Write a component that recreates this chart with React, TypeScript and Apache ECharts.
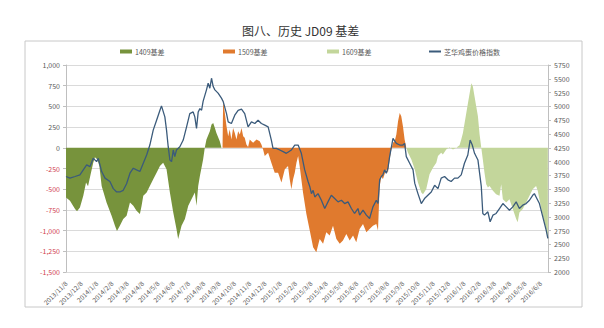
import React, { useEffect, useRef } from "react";
import * as echarts from "echarts";

// x positions are months since 2013/11/8
const xLabels: string[] = [
  "2013/11/8", "2013/12/8",
  "2014/1/8", "2014/2/8", "2014/3/8", "2014/4/8", "2014/5/8", "2014/6/8",
  "2014/7/8", "2014/8/8", "2014/9/8", "2014/10/8", "2014/11/8", "2014/12/8",
  "2015/1/8", "2015/2/8", "2015/3/8", "2015/4/8", "2015/5/8", "2015/6/8",
  "2015/7/8", "2015/8/8", "2015/9/8", "2015/10/8", "2015/11/8", "2015/12/8",
  "2016/1/8", "2016/2/8", "2016/3/8", "2016/4/8", "2016/5/8", "2016/6/8",
];

const basis1409: [number, number][] = [
  [0.0, -600], [0.26, -640], [0.59, -740], [0.72, -765], [0.91, -720], [1.13, -580],
  [1.31, -420], [1.44, -465], [1.61, -320], [1.78, -180], [1.89, -115], [2.05, -140],
  [2.18, -220], [2.33, -460], [2.65, -660], [2.98, -820], [3.2, -940], [3.33, -1005],
  [3.52, -940], [3.74, -860], [3.96, -820], [4.18, -660], [4.4, -700], [4.61, -760],
  [4.83, -800], [4.94, -700], [5.05, -580], [5.27, -540], [5.48, -460], [5.7, -380],
  [5.92, -300], [6.14, -220], [6.35, -180], [6.57, -260], [6.79, -540], [7.01, -780],
  [7.22, -980], [7.33, -1100], [7.55, -940], [7.77, -860], [7.99, -700], [8.2, -620],
  [8.42, -540], [8.53, -700], [8.64, -460], [8.75, -340], [8.96, -140], [9.07, 0],
  [9.18, 100], [9.4, 200], [9.51, 280], [9.62, 300], [9.73, 240], [9.83, 180],
  [10.05, 80], [10.16, 0],
];

const basis1509: [number, number][] = [
  [10.23, 0], [10.27, 580], [10.38, 420], [10.49, 260], [10.6, 140], [10.7, 220],
  [10.81, 100], [10.92, 240], [11.03, 180], [11.14, 100], [11.25, 200], [11.36, 160],
  [11.47, 240], [11.58, 140], [11.68, 120], [11.79, 40], [11.9, 10], [12.01, 100],
  [12.12, 80], [12.23, 60], [12.45, 100], [12.66, 80], [12.77, 40], [12.88, -20],
  [12.99, -100], [13.21, -60], [13.42, -180], [13.64, -300], [13.86, -300], [14.08, -420],
  [14.3, -260], [14.51, -220], [14.62, -380], [14.73, -500], [14.84, -380], [14.95, -300],
  [15.06, -180], [15.17, -100], [15.27, -220], [15.49, -540], [15.71, -800], [15.93, -1000],
  [16.15, -1200], [16.36, -1260], [16.47, -1180], [16.58, -1100], [16.8, -1160], [17.01, -1020],
  [17.23, -1060], [17.45, -940], [17.67, -1100], [17.89, -1160], [18.1, -1120], [18.32, -1040],
  [18.54, -1120], [18.76, -1060], [18.97, -1140], [19.19, -980], [19.41, -920], [19.63, -1020],
  [19.84, -980], [20.06, -940], [20.28, -920], [20.39, -1000], [20.5, -460], [20.61, -340],
  [20.71, -380], [20.93, -260], [21.04, -300], [21.15, -140], [21.26, -20], [21.37, 60],
  [21.48, 80], [21.59, 160], [21.7, 320], [21.81, 420], [21.91, 380], [22.02, 260],
  [22.13, 100], [22.24, 0],
];

const basis1609: [number, number][] = [
  [22.24, 0], [22.35, -60], [22.57, -140], [22.79, -260], [23.0, -420], [23.22, -540],
  [23.33, -560], [23.54, -500], [23.76, -320], [23.98, -240], [24.2, -180], [24.31, -100],
  [24.52, -60], [24.63, -80], [24.85, -20], [25.07, 10], [25.29, -20], [25.5, 0],
  [25.72, 30], [25.83, 100], [25.94, 180], [26.16, 420], [26.27, 540], [26.38, 660],
  [26.49, 780], [26.59, 740], [26.7, 620], [26.81, 500], [26.92, 380], [27.03, 160],
  [27.14, 0], [27.24, -140], [27.35, -300], [27.46, -440], [27.57, -480], [27.68, -460],
  [27.9, -520], [28.11, -560], [28.33, -580], [28.44, -440], [28.55, -620], [28.77, -660],
  [28.98, -620], [29.2, -740], [29.42, -860], [29.52, -900], [29.63, -780], [29.85, -740],
  [30.07, -660], [30.29, -580], [30.5, -500], [30.72, -460], [30.83, -520], [30.94, -620],
  [31.16, -820], [31.38, -980], [31.49, -1100],
];

const priceIndex: [number, number][] = [
  [0.0, 3730], [0.26, 3700], [0.59, 3730], [0.91, 3760], [1.13, 3850], [1.35, 3940],
  [1.57, 3910], [1.78, 4060], [2.0, 4000], [2.11, 4060], [2.22, 3940], [2.33, 3820],
  [2.55, 3700], [2.87, 3640], [3.09, 3510], [3.31, 3450], [3.52, 3450], [3.74, 3480],
  [3.96, 3600], [4.18, 3790], [4.4, 3880], [4.61, 3850], [4.83, 3820], [5.05, 3970],
  [5.27, 4120], [5.48, 4300], [5.7, 4570], [5.92, 4750], [6.14, 4930], [6.24, 5010],
  [6.46, 4810], [6.57, 4570], [6.68, 4270], [6.79, 4030], [6.9, 4000], [7.01, 4210],
  [7.11, 4090], [7.22, 4210], [7.44, 4270], [7.66, 4390], [7.88, 4630], [8.09, 4870],
  [8.31, 4900], [8.42, 4810], [8.53, 4600], [8.64, 4900], [8.75, 4960], [8.86, 4930],
  [8.96, 5090], [9.18, 5300], [9.29, 5420], [9.4, 5330], [9.51, 5510], [9.62, 5360],
  [9.73, 5300], [9.94, 5240], [10.16, 5150], [10.27, 5090], [10.49, 4870], [10.6, 4720],
  [10.81, 4690], [11.03, 4840], [11.25, 4930], [11.47, 4950], [11.68, 4870], [11.9, 4630],
  [12.12, 4720], [12.34, 4690], [12.55, 4750], [12.77, 4690], [12.99, 4660], [13.21, 4630],
  [13.42, 4390], [13.53, 4240], [13.75, 4240], [13.97, 4210], [14.19, 4180], [14.4, 4150],
  [14.73, 4210], [14.95, 4300], [15.17, 4300], [15.38, 4150], [15.6, 3850], [15.82, 3640],
  [15.93, 3550], [16.04, 3420], [16.15, 3480], [16.26, 3360], [16.47, 3420], [16.69, 3300],
  [16.91, 3150], [17.12, 3270], [17.34, 3390], [17.56, 3330], [17.78, 3270], [18.0, 3300],
  [18.21, 3240], [18.43, 3270], [18.65, 3150], [18.86, 3060], [19.08, 3150], [19.19, 3030],
  [19.41, 3120], [19.63, 3030], [19.84, 2970], [20.06, 3180], [20.28, 3300], [20.39, 3240],
  [20.5, 3670], [20.61, 3730], [20.71, 3760], [20.82, 3850], [20.93, 3790], [21.04, 3880],
  [21.15, 4090], [21.37, 4420], [21.59, 4330], [21.81, 4300], [22.02, 4300], [22.13, 4330],
  [22.24, 4090], [22.46, 3970], [22.68, 3850], [22.79, 3610], [23.0, 3420], [23.22, 3240],
  [23.43, 3330], [23.65, 3390], [23.87, 3450], [24.09, 3570], [24.31, 3510], [24.52, 3700],
  [24.74, 3730], [24.96, 3670], [25.17, 3640], [25.39, 3700], [25.61, 3700], [25.83, 3760],
  [26.04, 3970], [26.26, 4120], [26.41, 4390], [26.55, 4300], [26.7, 4150], [26.92, 4030],
  [27.14, 3550], [27.24, 3060], [27.35, 3030], [27.57, 3090], [27.72, 2910], [27.9, 3030],
  [28.11, 3060], [28.33, 3150], [28.55, 3240], [28.77, 3180], [28.98, 3120], [29.2, 3180],
  [29.42, 3270], [29.63, 3150], [29.85, 3210], [30.07, 3240], [30.29, 3300], [30.5, 3390],
  [30.61, 3420], [30.72, 3360], [30.94, 3240], [31.16, 3000], [31.38, 2760], [31.49, 2610],
];

const seriesNames = ["1409基差", "1509基差", "1609基差", "芝华鸡蛋价格指数"];
const colors = ["#77933C", "#E07A2E", "#C3D69B", "#3B5B7B"];
const legendLefts = [120, 223, 327, 429];

const FONT = "'Noto Sans CJK SC', 'Noto Sans', sans-serif";

export default function App() {
  const ref = useRef<HTMLDivElement>(null);
  useEffect(() => {
    if (!ref.current) return;
    const chart = echarts.init(ref.current, undefined, { renderer: "svg" });
    const areaSeries = (name: string, data: [number, number][], color: string) => ({
      name,
      type: "line",
      data,
      symbol: "none",
      lineStyle: { width: 0 },
      itemStyle: { color },
      areaStyle: { color, opacity: 1, origin: 0 },
      z: 2,
    });
    chart.setOption({
      animation: false,
      backgroundColor: "#ffffff",
      textStyle: { fontFamily: FONT },
      title: {
        text: "图八、历史 JD09 基差",
        left: 237,
        top: 19,
        textStyle: { fontSize: 12, fontWeight: "normal", color: "#333333", fontFamily: FONT },
      },
      graphic: [
        {
          type: "rect",
          shape: { x: 25, y: 41, width: 557, height: 266 },
          style: { fill: "none", stroke: "#C8C8C8", lineWidth: 1 },
          silent: true,
        },
      ],
      legend: seriesNames.map((n, i) => ({
        data: [n],
        left: legendLefts[i],
        top: 48,
        itemWidth: 12,
        itemHeight: i === 3 ? 2 : 4,
        itemGap: 4,
        icon: "rect",
        textStyle: { fontSize: 7, color: "#595959", fontFamily: FONT, padding: [0, 0, 0, -2] },
        padding: 0,
      })),
      grid: { left: 66, right: 56, top: 65, bottom: 56, containLabel: false },
      xAxis: {
        type: "value",
        min: 0,
        max: 31.5,
        interval: 1,
        splitLine: { show: false },
        axisLine: { show: false, onZero: false },
        axisTick: { show: false },
        axisLabel: {
          rotate: 45,
          fontSize: 6.5,
          color: "#595959",
          margin: 10,
          showMaxLabel: false,
          formatter: (v: number) => (Number.isInteger(v) && xLabels[v] ? xLabels[v] : ""),
        },
      },
      yAxis: [
        {
          type: "value",
          min: -1500,
          max: 1000,
          interval: 250,
          position: "left",
          axisLine: { show: true, lineStyle: { color: "#BFBFBF" } },
          axisTick: { show: true, length: 3, lineStyle: { color: "#BFBFBF" } },
          splitLine: { show: true, lineStyle: { color: "#DADADA", width: 1 } },
          axisLabel: {
            fontSize: 7,
            margin: 6,
            color: (v: any) => (Number(v) < 0 ? "#D0404F" : "#595959"),
            formatter: (v: number) =>
              (v < 0 ? "-" : "") + Math.abs(v).toLocaleString("en-US"),
          },
        },
        {
          type: "value",
          min: 2000,
          max: 5750,
          interval: 250,
          position: "right",
          axisLine: { show: true, lineStyle: { color: "#BFBFBF" } },
          axisTick: { show: true, length: 3, lineStyle: { color: "#BFBFBF" } },
          splitLine: { show: false },
          axisLabel: {
            fontSize: 7,
            margin: 6,
            color: "#595959",
            formatter: (v: number) => String(v),
          },
        },
      ],
      series: [
        areaSeries(seriesNames[0], basis1409, colors[0]),
        areaSeries(seriesNames[1], basis1509, colors[1]),
        areaSeries(seriesNames[2], basis1609, colors[2]),
        {
          name: seriesNames[3],
          type: "line",
          yAxisIndex: 1,
          data: priceIndex,
          symbol: "none",
          lineStyle: { width: 1.3, color: colors[3] },
          itemStyle: { color: colors[3] },
          z: 5,
        },
      ],
    });
    return () => chart.dispose();
  }, []);
  return (
    <div
      ref={ref}
      style={{ position: "absolute", left: 0, top: 0, width: 604, height: 328 }}
    />
  );
}
